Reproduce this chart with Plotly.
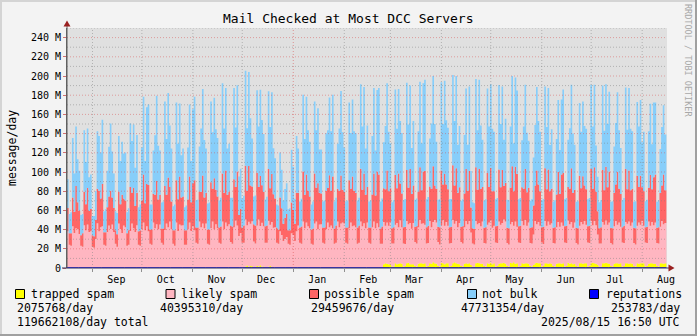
import pandas as pd
import plotly.graph_objects as go

# ---------------- data (million messages/day), one value per day ----------------
# days run from 2024-08-16 12:00; each line is one week (Fri..Thu)
trapped = [
    .4, .2, .2, .4, .5, .4, .4,
    .4, .2, .2, .5, .4, .4, .5,
    .4, .2, .2, .3, .5, .4, .4,
    .5, .2, .2, .4, .4, .5, .4,
    .4, .2, .2, .4, .5, .4, .4,
    .4, .2, .2, .5, .4, .4, .5,
    .5, .2, .2, .4, .5, .4, .4,
    .4, .2, .2, .4, .4, .5, .4,
    .4, .2, .2, .5, .4, .4, .5,
    .4, .2, .2, .4, .5, .4, .4,
    .5, .2, .2, .4, .4, .5, .4,
    .4, .2, .2, .5, .4, .4, .4,
    .4, .2, .2, .4, .5, .4, .5,
    .4, .2, .2, .4, .4, .5, .4,
    .5, .2, .2, .5, .4, .4, .3,
    .4, .3, .3, 1.5, 2.5, 1.2, 2,
    1.8, .5, .4, 2.2, 1.5, 2.8, 1.2,
    1.5, .4, .3, 1.2, 2, 1, .8,
    .4, .2, .2, .4, .3, .2, .2,
    .2, .2, .2, .3, .4, .2, .4,
    .4, .2, .2, .5, .4, .4, .5,
    .4, .2, .2, .4, .5, .4, .4,
    .5, .2, .2, .4, .4, .5, .4,
    .4, .2, .2, .5, .4, .4, .5,
    .4, .2, .2, .4, .5, .4, .4,
    .4, .2, .2, .4, .4, .5, .4,
    .5, .2, .2, .5, .4, .4, .5,
    .4, .2, .3, 4, 5, 4.5, 4,
    4, 1.5, 1.5, 5, 4, 4.5, 5,
    4.5, 1.5, 2, 5, 5.5, 4, 4,
    4, 2, 1.5, 4.5, 5, 5, 4.5,
    5, 1.5, 2, 5, 4.5, 6, 5,
    4.5, 2, 1.5, 5.5, 5, 4, 5,
    5, 1.5, 2, 5, 6, 5, 4.5,
    4, 2, 1.5, 4.5, 5, 4.5, 5,
    3, 1.5, 1.5, 5, 5.5, 5, 4.5,
    4.5, 2, 1.5, 5, 4.5, 5.5, 4,
    5, 1.5, 2, 4.5, 5, 5, 5.5,
    4.5, 2, 1.5, 5.5, 5, 6, 4.5,
    5, 1.5, 2, 5, 4.5, 5, 5,
    4.5, 2, 1.5, 3, 5, 5.5, 5,
    5, 1.5, 2, 5, 5, 4.5, 5,
    4.5, 2, 1.5, 4.5, 5, 5, 4.5,
    5, 1.5, 2, 5.5, 4.5, 5, 4,
    4.5, 2, 1.5, 5, 5, 4.5, 5,
    5, 1.5, 2, 5, 5.5, 5, 4.5,
    3, 1.5, 1.5, 5, 5, 5.5, 5,
    4.5, 2, 1.5, 4.5, 5, 5, 4.5,
    5, 1.5, 2, 5, 5, 4.5, 5,
    4.5, 2, 1.5, 5, 4.5, 5, 5,
    5, 1.5, 2, 4.5, 5, 5, 4.5,
    4.5, 2, 1.5, 5, 5, 4.5, 5,
]
likely = [
    38, 24, 23, 43, 36, 41, 40,
    35, 23, 22, 44, 39, 45, 37,
    38, 22, 21, 30, 46, 38, 42,
    43, 24, 23, 37, 44, 40, 45,
    37, 25, 22, 46, 40, 36, 44,
    42, 23, 24, 38, 46, 41, 37,
    44, 24, 23, 40, 47, 39, 43,
    38, 25, 24, 47, 41, 45, 40,
    45, 26, 24, 39, 46, 42, 48,
    40, 25, 23, 47, 38, 45, 44,
    44, 24, 24, 40, 47, 38, 43,
    39, 26, 25, 48, 42, 46, 41,
    46, 25, 24, 41, 48, 40, 45,
    41, 26, 25, 48, 40, 47, 43,
    45, 27, 25, 42, 49, 44, 33,
    36, 26, 26, 49, 42, 47, 44,
    47, 27, 25, 42, 49, 41, 46,
    42, 26, 26, 48, 43, 47, 41,
    42, 26, 25, 38, 34, 28, 30,
    32, 25, 24, 36, 34, 28, 38,
    44, 26, 25, 48, 41, 47, 43,
    41, 25, 24, 46, 48, 40, 45,
    45, 26, 25, 40, 47, 42, 44,
    41, 25, 26, 48, 42, 46, 47,
    46, 26, 25, 41, 47, 43, 44,
    42, 25, 26, 48, 43, 46, 41,
    47, 26, 25, 42, 48, 41, 46,
    42, 25, 25, 44, 39, 43, 40,
    44, 24, 24, 40, 43, 38, 45,
    38, 24, 23, 44, 40, 43, 37,
    43, 25, 24, 38, 45, 41, 42,
    40, 24, 24, 44, 38, 42, 45,
    43, 25, 23, 39, 45, 40, 43,
    39, 24, 24, 45, 40, 44, 38,
    43, 25, 24, 38, 44, 41, 44,
    34, 24, 23, 44, 40, 42, 39,
    44, 24, 24, 40, 43, 44, 38,
    39, 25, 24, 44, 40, 42, 45,
    44, 24, 23, 40, 43, 38, 44,
    38, 25, 24, 44, 40, 45, 39,
    43, 24, 24, 32, 44, 40, 43,
    39, 25, 23, 44, 39, 44, 40,
    42, 24, 24, 38, 43, 38, 43,
    39, 25, 24, 44, 41, 43, 38,
    43, 24, 23, 39, 43, 41, 44,
    40, 25, 24, 44, 39, 44, 40,
    32, 24, 24, 43, 40, 44, 40,
    43, 24, 23, 39, 44, 40, 43,
    38, 25, 24, 43, 41, 44, 39,
    43, 24, 23, 39, 43, 40, 44,
    39, 25, 24, 44, 39, 43, 40,
    43, 24, 24, 38, 44, 41, 42,
]
possible = [
    24, 12, 13, 30, 22, 44, 28,
    24, 11, 14, 35, 27, 38, 22,
    23, 12, 12, 20, 36, 42, 30,
    44, 13, 14, 26, 30, 40, 28,
    25, 14, 13, 33, 26, 40, 28,
    28, 13, 15, 46, 32, 42, 27,
    34, 14, 16, 30, 50, 28, 44,
    48, 15, 16, 30, 35, 45, 31,
    31, 15, 17, 46, 30, 52, 36,
    29, 14, 16, 44, 33, 50, 29,
    30, 15, 15, 31, 48, 30, 45,
    52, 16, 17, 31, 37, 50, 32,
    32, 15, 16, 48, 34, 53, 36,
    33, 16, 18, 50, 38, 54, 33,
    34, 17, 18, 50, 35, 56, 22,
    25, 16, 18, 56, 36, 58, 40,
    36, 18, 19, 55, 34, 52, 39,
    36, 17, 18, 54, 38, 50, 35,
    30, 16, 15, 35, 28, 18, 22,
    24, 14, 15, 32, 26, 18, 40,
    34, 16, 18, 52, 35, 50, 37,
    33, 15, 17, 52, 35, 48, 33,
    32, 16, 17, 40, 36, 54, 36,
    54, 16, 18, 34, 38, 50, 34,
    33, 16, 17, 50, 35, 52, 36,
    36, 17, 18, 55, 38, 52, 35,
    37, 16, 17, 34, 50, 34, 54,
    55, 16, 18, 35, 38, 54, 36,
    35, 16, 17, 52, 36, 56, 38,
    35, 17, 18, 53, 38, 56, 36,
    39, 16, 18, 37, 55, 35, 54,
    56, 17, 18, 36, 40, 58, 36,
    35, 16, 18, 57, 37, 54, 39,
    38, 17, 17, 57, 40, 55, 36,
    37, 16, 18, 35, 54, 35, 52,
    26, 16, 16, 56, 36, 56, 39,
    36, 16, 17, 54, 37, 55, 38,
    36, 17, 18, 54, 39, 55, 35,
    40, 16, 17, 38, 58, 36, 57,
    55, 17, 18, 35, 38, 53, 35,
    36, 16, 17, 30, 37, 56, 39,
    36, 16, 18, 55, 38, 54, 35,
    36, 16, 17, 34, 52, 34, 50,
    55, 17, 18, 35, 37, 56, 36,
    34, 16, 17, 52, 35, 50, 37,
    37, 17, 18, 54, 38, 56, 35,
    24, 16, 17, 54, 36, 56, 39,
    53, 16, 17, 35, 38, 55, 35,
    34, 16, 18, 55, 36, 53, 37,
    35, 16, 17, 52, 37, 51, 35,
    36, 16, 17, 35, 53, 34, 50,
    50, 16, 17, 35, 37, 52, 34,
]
notbulk = [
    30, 20, 22, 62, 40, 62, 45,
    42, 21, 20, 64, 44, 62, 35,
    36, 20, 21, 30, 60, 57, 48,
    67, 22, 24, 38, 52, 70, 48,
    36, 20, 22, 58, 45, 55, 47,
    50, 22, 23, 66, 54, 66, 40,
    60, 25, 27, 55, 81, 44, 80,
    84, 26, 26, 45, 62, 89, 56,
    46, 27, 28, 88, 58, 88, 64,
    55, 25, 27, 81, 58, 76, 44,
    50, 24, 26, 54, 75, 43, 77,
    87, 28, 29, 47, 66, 90, 60,
    46, 27, 28, 84, 59, 84, 63,
    61, 28, 30, 94, 67, 86, 48,
    50, 29, 30, 95, 62, 90, 40,
    42, 30, 31, 99, 65, 98, 70,
    50, 29, 31, 86, 63, 90, 68,
    60, 28, 30, 81, 64, 85, 48,
    42, 24, 25, 47, 40, 24, 30,
    32, 22, 23, 55, 45, 26, 59,
    46, 27, 29, 80, 58, 81, 63,
    57, 26, 28, 75, 60, 78, 45,
    46, 27, 28, 60, 60, 81, 62,
    85, 28, 29, 47, 65, 88, 60,
    46, 27, 28, 81, 58, 80, 62,
    62, 28, 29, 88, 66, 90, 48,
    64, 27, 28, 61, 89, 47, 85,
    90, 28, 29, 48, 66, 91, 62,
    47, 27, 28, 89, 62, 88, 65,
    63, 28, 29, 91, 66, 87, 48,
    67, 28, 29, 63, 89, 49, 92,
    95, 29, 30, 50, 68, 94, 64,
    49, 28, 29, 92, 63, 97, 67,
    64, 29, 29, 94, 67, 96, 50,
    64, 27, 28, 61, 84, 48, 88,
    38, 27, 27, 92, 62, 93, 66,
    49, 28, 29, 88, 63, 87, 65,
    62, 28, 29, 88, 66, 87, 48,
    67, 29, 29, 64, 94, 50, 93,
    87, 28, 29, 49, 65, 88, 62,
    49, 28, 29, 50, 63, 87, 66,
    62, 28, 29, 85, 65, 85, 48,
    62, 27, 28, 58, 75, 46, 78,
    87, 28, 29, 49, 63, 87, 62,
    47, 27, 28, 76, 59, 78, 62,
    63, 28, 29, 88, 65, 86, 48,
    36, 27, 28, 88, 62, 86, 66,
    83, 27, 28, 48, 64, 83, 61,
    48, 28, 29, 85, 62, 86, 64,
    60, 27, 28, 77, 63, 79, 47,
    62, 27, 28, 59, 74, 47, 78,
    75, 27, 28, 46, 61, 72, 58,
]
# weekly values of the reputations line
reputations = [
    .25, .26, .24, .27, .25, .26, .25, .24, .26, .25, .27, .25, .24,
    .26, .25, .27, .26, .25, .22, .23, .25, .26, .25, .24, .26, .25,
    .25, .26, .24, .25, .26, .25, .24, .26, .25, .25, .26, .24, .25,
    .26, .25, .24, .25, .26, .25, .24, .26, .25, .25, .26, .24, .25,
]
series = [("trapped spam", trapped, "#FFFF00"),
          ("likely spam", likely, "#FFB6C1"),
          ("possible spam", possible, "#FF6666"),
          ("not bulk", notbulk, "#87CEFA")]
legend_names = ["trapped spam", "likely spam", "possible spam", "not bulk", "reputations"]
legend_colors = ["#FFFF00", "#FFB6C1", "#FF6666", "#87CEFA", "#0000FF"]
legend_values = ["2075768/day", "40395310/day", "29459676/day", "47731354/day", "253783/day"]
total_text = "119662108/day total"
stamp_text = "2025/08/15 16:50 UTC"
month_names = ["Sep", "Oct", "Nov", "Dec", "Jan", "Feb", "Mar", "Apr", "May", "Jun", "Jul", "Aug"]
month_starts = ["2024-09-01", "2024-10-01", "2024-11-01", "2024-12-01", "2025-01-01", "2025-02-01",
                "2025-03-01", "2025-04-01", "2025-05-01", "2025-06-01", "2025-07-01", "2025-08-01"]
y_ticks = [0, 20, 40, 60, 80, 100, 120, 140, 160, 180, 200, 220, 240]
y_ticktext = ["0"] + [f"{v} M" for v in y_ticks[1:]]

START = pd.Timestamp("2024-08-16 12:00")
END = pd.Timestamp("2025-08-15 16:50")
RANGE_END = pd.Timestamp("2025-08-16 02:00")

FONT = "DejaVu Sans Mono"
W, H = 697, 336
L, R, T, B = 67, 30, 28, 68
PW, PH = W - L - R, H - T - B


def px(x):
    return (x - L) / PW


def py(y):
    return (H - B - y) / PH


days = [START + pd.Timedelta(days=i) for i in range(len(likely))] + [END]
weeks = [START + pd.Timedelta(days=7 * i) for i in range(len(reputations))] + [END]

fig = go.Figure()
for name, vals, col in series:
    fig.add_trace(go.Scatter(x=days, y=list(vals) + [vals[-1]], name=name, stackgroup="one",
                             mode="lines", line=dict(width=0, shape="hv"), fillcolor=col,
                             hoverinfo="skip"))
fig.add_trace(go.Scatter(x=weeks, y=list(reputations) + [reputations[-1]], name="reputations",
                         mode="lines", line=dict(width=1, color="#0000FF", shape="hv"),
                         hoverinfo="skip"))

shapes = []
# grid drawn on top of the data, as rrdtool does
for v in range(10, 251, 10):
    major = v % 20 == 0
    shapes.append(dict(type="line", xref="paper", yref="y", x0=0, x1=1, y0=v, y1=v, layer="above",
                       line=dict(color="rgba(215,70,70,0.45)" if major else "rgba(130,130,130,0.5)",
                                 width=1, dash="1px,2px")))
for m in month_starts:
    red = m.endswith("01-01")
    shapes.append(dict(type="line", xref="x", yref="paper", x0=m, x1=m, y0=0, y1=1, layer="above",
                       line=dict(color="rgba(215,70,70,0.5)" if red else "rgba(130,130,130,0.5)",
                                 width=1, dash="1px,2px")))
# axis extensions and arrows
shapes.append(dict(type="line", xref="paper", yref="paper", x0=px(67), x1=px(67), y0=py(268), y1=py(24),
                   line=dict(color="#606060", width=1)))
shapes.append(dict(type="line", xref="paper", yref="paper", x0=px(62), x1=px(670), y0=py(268), y1=py(268),
                   line=dict(color="#30305A", width=1)))
shapes.append(dict(type="path", xref="paper", yref="paper", line=dict(width=0), fillcolor="#9A2020",
                   path=f"M{px(67)},{py(20.5)} L{px(63.5)},{py(26.5)} L{px(70.5)},{py(26.5)} Z"))
shapes.append(dict(type="path", xref="paper", yref="paper", line=dict(width=0), fillcolor="#9A2020",
                   path=f"M{px(674.5)},{py(268)} L{px(668.5)},{py(264.5)} L{px(668.5)},{py(271.5)} Z"))
# 3-D frame
shapes.append(dict(type="rect", xref="paper", yref="paper", x0=px(0), x1=px(697), y0=py(0), y1=py(2),
                   line=dict(width=0), fillcolor="#D4D4D4"))
shapes.append(dict(type="rect", xref="paper", yref="paper", x0=px(0), x1=px(2), y0=py(0), y1=py(336),
                   line=dict(width=0), fillcolor="#D4D4D4"))
shapes.append(dict(type="rect", xref="paper", yref="paper", x0=px(0), x1=px(697), y0=py(334), y1=py(336),
                   line=dict(width=0), fillcolor="#A0A0A0"))
shapes.append(dict(type="rect", xref="paper", yref="paper", x0=px(695), x1=px(697), y0=py(0), y1=py(336),
                   line=dict(width=0), fillcolor="#A0A0A0"))

# legend boxes and texts
box_x = [15.5, 166, 309.5, 467.5, 589.5]
text_x = [30, 180, 323, 481, 605]
val_x = [16, 159, 310, 460, 681]
ann = []
for i, (nm, col) in enumerate(zip(legend_names, legend_colors)):
    shapes.append(dict(type="rect", xref="paper", yref="paper", x0=px(box_x[i]), x1=px(box_x[i] + 9),
                       y0=py(289.5), y1=py(298.5), line=dict(color="#000000", width=1), fillcolor=col))
    ann.append(dict(text=nm, x=px(text_x[i]), y=py(294), xanchor="left", yanchor="middle"))
    if i < 4:
        ann.append(dict(text=legend_values[i], x=px(val_x[i]), y=py(308), xanchor="left", yanchor="middle"))
    else:
        ann.append(dict(text=legend_values[i], x=px(val_x[i]), y=py(308), xanchor="right", yanchor="middle"))
ann.append(dict(text=total_text, x=px(16), y=py(322), xanchor="left", yanchor="middle"))
ann.append(dict(text=stamp_text, x=px(681), y=py(322), xanchor="right", yanchor="middle"))
for a in ann:
    a.update(xref="paper", yref="paper", showarrow=False, borderpad=0,
             font=dict(family=FONT, size=11.5, color="#000000"))
ann.append(dict(text="Mail Checked at Most DCC Servers", x=px(348), y=py(19), xref="paper", yref="paper",
                showarrow=False, xanchor="center", yanchor="middle", borderpad=0,
                font=dict(family=FONT, size=13, color="#000000")))
ann.append(dict(text="message/day", x=px(12), y=py(148), xref="paper", yref="paper", textangle=-90,
                showarrow=False, xanchor="center", yanchor="middle", borderpad=0,
                font=dict(family=FONT, size=11.5, color="#000000")))
ann.append(dict(text="RRDTOOL / TOBI OETIKER", x=px(688), y=py(60), xref="paper", yref="paper", textangle=90,
                showarrow=False, xanchor="center", yanchor="middle", borderpad=0,
                font=dict(family=FONT, size=8.5, color="#A8A8A8")))

label_pos = [pd.Timestamp(m) + pd.Timedelta(days=14.5) for m in month_starts]

fig.update_layout(
    width=W, height=H, margin=dict(l=L, r=R, t=T, b=B, pad=0, autoexpand=False),
    paper_bgcolor="#F3F3F3", plot_bgcolor="#E0E0E0", showlegend=False,
    shapes=shapes, annotations=ann,
    xaxis=dict(type="date", range=[START, RANGE_END], tickmode="array", tickvals=label_pos,
               ticktext=month_names, ticks="", showgrid=False, zeroline=False, showline=False,
               ticklabelstandoff=4,
               tickfont=dict(family=FONT, size=10, color="#000000"), fixedrange=True,
               minor=dict(tickmode="array", tickvals=month_starts, ticks="outside", ticklen=3,
                          tickcolor="#909090", showgrid=False)),
    yaxis=dict(range=[0, 250], tickmode="array", tickvals=y_ticks, ticktext=y_ticktext,
               ticks="outside", ticklen=3, tickcolor="#D07070", showgrid=False, zeroline=False,
               showline=True, linecolor="#606060", linewidth=1,
               tickfont=dict(family=FONT, size=10, color="#000000"), fixedrange=True),
)

fig.write_html("out.html")
